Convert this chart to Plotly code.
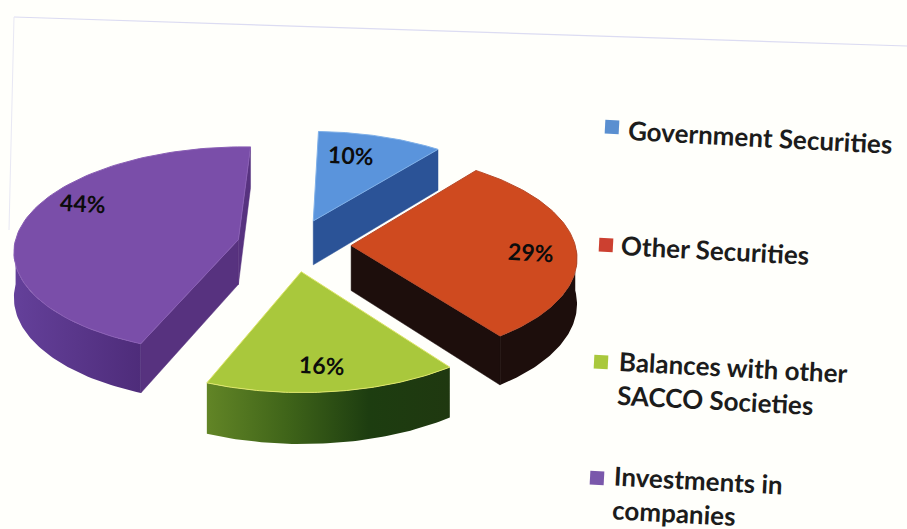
import numpy as np
import plotly.graph_objects as go

# --- data ---
categories = ["Government Securities", "Other Securities",
              "Balances with other<br>SACCO Societies", "Investments in<br>companies"]
values = [10, 29, 16, 44]

# --- styles ---
top_colors = ["#5a94dc", "#cf4a1f", "#a9c83c", "#7a4ea9"]
rim_edges = ["#7fb0e8", "#b84a2a", "#dfe66a", "#8a5fb5"]
radial_colors = ["#2b5397", "#1d0e0c", "#2c4a14", "#57327f"]
arc_grads = [
    ["#2b5397", "#2b5397"],
    ["#1d0e0c", "#1d0e0c"],
    ["#628526", "#3f6419", "#1d3d10", "#1f3810"],
    ["#64409a", "#4e2c7a"],
]
legend_colors = ["#5a8fd0", "#cc4030", "#a9c83c", "#7a58ab"]
legend_marks = [(612, 127), (606, 245), (601, 362), (597, 478)]
legend_text = [(760, 137), (715, 250), (732, 384), (697, 497)]
label_pos = [(351, 155), (531, 252), (322, 365), (83, 203)]

# --- projection parameters ---
CX, CY, RX, RY, PERSP, DEPTH, EXPLODE, START = 294, 245, 224, 103, 0.10, 45, 0.255, 2
TILT = 3


def project(x, y, z=0.0):
    f = 1 / (1 + PERSP * y)
    return CX + RX * x * f, CY - RY * y * f + DEPTH * z * f


def edge(a):
    r = np.radians(a)
    return np.sin(r), np.cos(r)


def to_lists(points):
    return [p[0] for p in points], [p[1] for p in points]


fig = go.Figure()
total = sum(values)
a0 = START
for i, v in enumerate(values):
    a1 = a0 + v / total * 360
    mx, my = edge((a0 + a1) / 2)
    ax, ay = EXPLODE * mx, EXPLODE * my
    rim = [(ax + edge(a)[0], ay + edge(a)[1]) for a in np.linspace(a0, a1, 90)]

    # radial walls facing the viewer
    for ang, visible in ((a0, np.sin(np.radians(a0)) < 0), (a1, np.sin(np.radians(a1)) > 0)):
        if visible:
            ex, ey = edge(ang)
            pts = [project(ax, ay), project(ax + ex, ay + ey),
                   project(ax + ex, ay + ey, 1), project(ax, ay, 1), project(ax, ay)]
            xs, ys = to_lists(pts)
            fig.add_trace(go.Scatter(x=xs, y=ys, mode="lines", fill="toself",
                                     fillcolor=radial_colors[i], line=dict(width=0.5, color=radial_colors[i]),
                                     hoverinfo="skip", showlegend=False))

    # outer curved wall facing the viewer
    lo, hi = max(a0, 90), min(a1, 270)
    if hi > lo:
        arc = [(ax + edge(a)[0], ay + edge(a)[1]) for a in np.linspace(lo, hi, 60)]
        pts = [project(x, y) for x, y in arc] + [project(x, y, 1) for x, y in arc[::-1]]
        pts.append(pts[0])
        xs, ys = to_lists(pts)
        stops = arc_grads[i]
        scale = [[k / (len(stops) - 1), c] for k, c in enumerate(stops)]
        fig.add_trace(go.Scatter(x=xs, y=ys, mode="lines", fill="toself",
                                 fillgradient=dict(type="horizontal", colorscale=scale),
                                 line=dict(width=0), hoverinfo="skip", showlegend=False))

    # top face
    pts = [project(ax, ay)] + [project(x, y) for x, y in rim] + [project(ax, ay)]
    xs, ys = to_lists(pts)
    fig.add_trace(go.Scatter(x=xs, y=ys, mode="lines", fill="toself",
                             fillcolor=top_colors[i], line=dict(width=1, color=rim_edges[i]),
                             name=categories[i].replace("<br>", " "), hoverinfo="name", showlegend=False))
    a0 = a1

# legend squares
fig.add_trace(go.Scatter(x=[p[0] for p in legend_marks], y=[p[1] for p in legend_marks], mode="markers",
                         marker=dict(symbol="square", size=14, color=legend_colors, angle=TILT),
                         hoverinfo="skip", showlegend=False))

for i, v in enumerate(values):
    fig.add_annotation(x=label_pos[i][0], y=label_pos[i][1], text=f"<b>{v}%</b>", showarrow=False,
                       textangle=TILT, font=dict(family="Lato", size=23, color="#0c0c0c", weight=900))
    fig.add_annotation(x=legend_text[i][0], y=legend_text[i][1], text=f"<b>{categories[i]}</b>", showarrow=False,
                       textangle=TILT, align="left", font=dict(family="Lato", size=26, color="#1c1c1c"))

fig.update_layout(
    width=907, height=529, margin=dict(l=0, r=0, t=0, b=0),
    paper_bgcolor="#fffffb", plot_bgcolor="#fffffb",
    xaxis=dict(range=[0, 907], visible=False, fixedrange=True),
    yaxis=dict(range=[529, 0], visible=False, fixedrange=True),
    shapes=[
        dict(type="line", x0=14, y0=17, x1=907, y1=46, line=dict(color="#dcdcf2", width=1.2)),
        dict(type="line", x0=14, y0=17, x1=9, y1=230, line=dict(color="#e8e8f4", width=1)),
    ],
)
fig.write_html("out.html", config={"displayModeBar": False},
               post_script="document.body.style.margin='0';document.body.style.background='#fffffb';")
